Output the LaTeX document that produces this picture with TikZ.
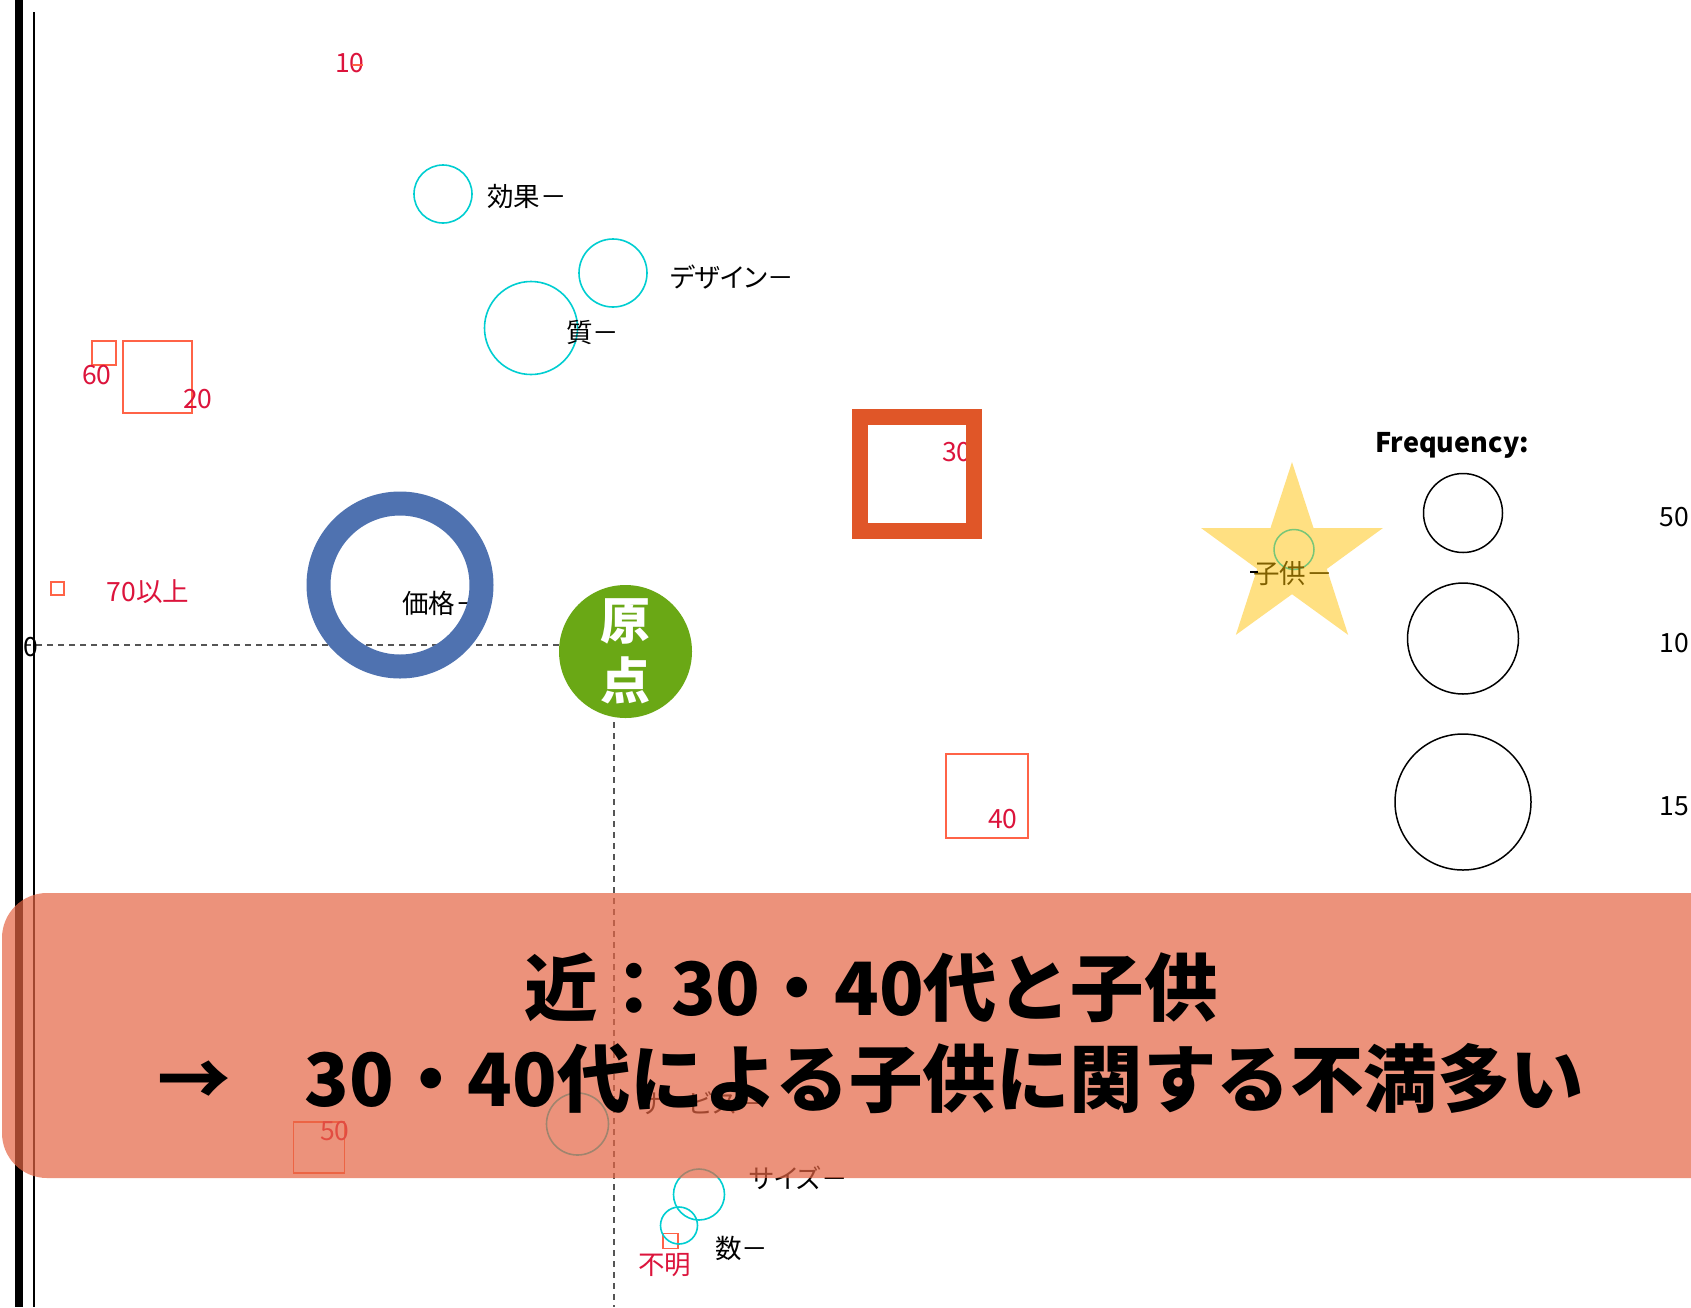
\documentclass[tikz,border=0pt]{standalone}
\usepackage{fontspec}
\setmainfont{Noto Sans CJK JP}
\newfontfamily\lblfont{Noto Sans CJK JP}[RawFeature=+palt]
\usepackage{tikz}
\usetikzlibrary{shapes.geometric}

\definecolor{numred}{RGB}{220,20,60}
\definecolor{boxred}{RGB}{255,99,71}
\definecolor{bubcyan}{RGB}{0,206,209}
\definecolor{ringblue}{RGB}{79,114,176}
\definecolor{origgreen}{RGB}{106,168,21}
\definecolor{sqorange}{RGB}{224,86,40}
\definecolor{staryellow}{RGB}{255,224,130}
\definecolor{kidolive}{RGB}{128,96,0}
\definecolor{dotgreen}{RGB}{120,198,120}
\definecolor{axisgray}{RGB}{85,85,85}
\definecolor{bannersalmon}{RGB}{229,101,68}

\tikzset{
    lbl/.style={
        anchor=west,
        inner sep=0pt,
        font={\lblfont\fontsize{26.5}{30}\selectfont}
    },
    redlbl/.style={lbl, text=numred},
    bubble/.style={circle, draw=bubcyan, line width=1.6pt, inner sep=0pt},
    agebox/.style={rectangle, draw=boxred, line width=1.4pt, inner sep=0pt},
    legbub/.style={circle, draw=black, line width=1.5pt, inner sep=0pt},
    axisline/.style={axisgray, line width=1.5pt, dash pattern=on 6pt off 5pt},
}

\begin{document}
\begin{tikzpicture}
[
    x=1pt, y=-1pt,
    banner/.style={fill=bannersalmon, fill opacity=0.7, rounded corners=45pt},
    msgfont/.style={font={\bfseries\fontsize{73.5}{91}\selectfont}},
]
\fill[white] (0,0) rectangle (1691,1307);
\useasboundingbox (0,0) rectangle (1691,1307);

% frame lines and origin axes
\fill[black] (15,0) rectangle (23,1307);
\draw[line width=1.3pt] (34,12) -- (34,1307);
\coordinate (xstart) at (25,645);
\coordinate (o) at (614,645);
\coordinate (yend) at (614,1307);
\draw[axisline] (o) -- (xstart);
\draw[axisline] (o) -- (yend);
\node[lbl] (zero) at (23,647) {0};

% age groups
\node[redlbl] (l10) at (335,63) {10};
\node[agebox, minimum width=9pt, minimum height=1pt] (b10) at (357.5,65) {};
\node[agebox, minimum size=24pt] (b60) at (104,353) {};
\node[redlbl] (l60) at (82,375) {60};
\node[agebox, minimum width=69pt, minimum height=72pt] (b20) at (157.5,377) {};
\node[redlbl] (l20) at (183,399) {20};
\node[redlbl] (l30) at (942,452) {30};
\node[draw=sqorange, line width=16pt, minimum size=114pt, inner sep=0pt] (b30) at (917,474) {};
\node[agebox, minimum size=13pt] (b70) at (57.5,588.5) {};
\node[redlbl] (l70) at (106.5,592) {70以上};
\node[agebox, minimum width=82pt, minimum height=84pt] (b40) at (987,796) {};
\node[redlbl] (l40) at (988,819) {40};
\node[agebox, minimum size=51pt] (b50) at (319,1147.5) {};
\node[redlbl] (l50) at (320,1131) {50};
\node[agebox, minimum size=15pt] (bna) at (670.5,1241) {};
\node[redlbl] (lna) at (638,1265) {不明};

% complaint bubbles
\node[bubble, minimum size=58pt] (effect) at (443,194) {};
\node[lbl] (leffect) at (487,197) {効果－};
\node[bubble, minimum size=68pt] (design) at (613,273) {};
\node[lbl] (ldesign) at (670,277) {デザイン－};
\node[bubble, minimum size=93pt] (quality) at (531,328) {};
\node[lbl] (lquality) at (566,332) {質－};
\node[lbl] (lprice) at (402,603) {価格－};
\node[circle, draw=ringblue, line width=24pt, minimum size=163pt, inner sep=0pt] (price) at (400,585) {};
\node[bubble, minimum size=62pt] (service) at (577.5,1124) {};
\node[lbl] (lservice) at (637,1103) {サービス－};
\node[bubble, minimum size=51pt] (size) at (699,1194.5) {};
\node[lbl] (lsize) at (749,1178) {サイズ－};
\node[bubble, minimum size=37pt] (count) at (679,1225.5) {};
\node[lbl] (lcount) at (715,1248) {数－};

% children
\node[star, star points=5, star point ratio=2.61, fill=staryellow, minimum size=191pt, inner sep=0pt] (kidstar) at (1292,557.6) {};
\node[circle, draw=dotgreen, line width=1.5pt, minimum size=40pt, inner sep=0pt] (kid) at (1294,549.5) {};
\node[lbl, text=kidolive] (lkid) at (1253,573) {子供－};
\draw[line width=1.5pt] (lkid.west) ++(-3,-1) -- ++(8,0);

% origin
\node[circle, fill=origgreen, minimum size=133pt, inner sep=0pt, text=white, align=center,
      font={\bfseries\fontsize{50}{60}\selectfont}] (orig) at (625.5,651.5) {原\\点};

% legend
\node[font={\bfseries\fontsize{27}{30}\selectfont}, inner sep=0pt] (freq) at (1452,445) {Frequency:};
\node[legbub, minimum size=79pt] (leg50) at (1463,513) {};
\node[legbub, minimum size=111pt] (leg100) at (1463,638.5) {};
\node[legbub, minimum size=136pt] (leg150) at (1463,802) {};
\node[lbl] (lleg50) at (1659.5,517) {50};
\node[lbl] (lleg100) at (1659.5,643) {10};
\node[lbl] (lleg150) at (1659.5,806) {15};

% conclusion banner
\begin{scope}
\clip (0,0) rectangle (1691,1307);
\fill[banner] (2,893) rectangle (1760,1178);
\end{scope}
\node[msgfont, align=center, inner sep=0pt] (msg) at (871,1033)
    {近：30・40代と子供\\→　30・40代による子供に関する不満多い};
\end{tikzpicture}
\end{document}
